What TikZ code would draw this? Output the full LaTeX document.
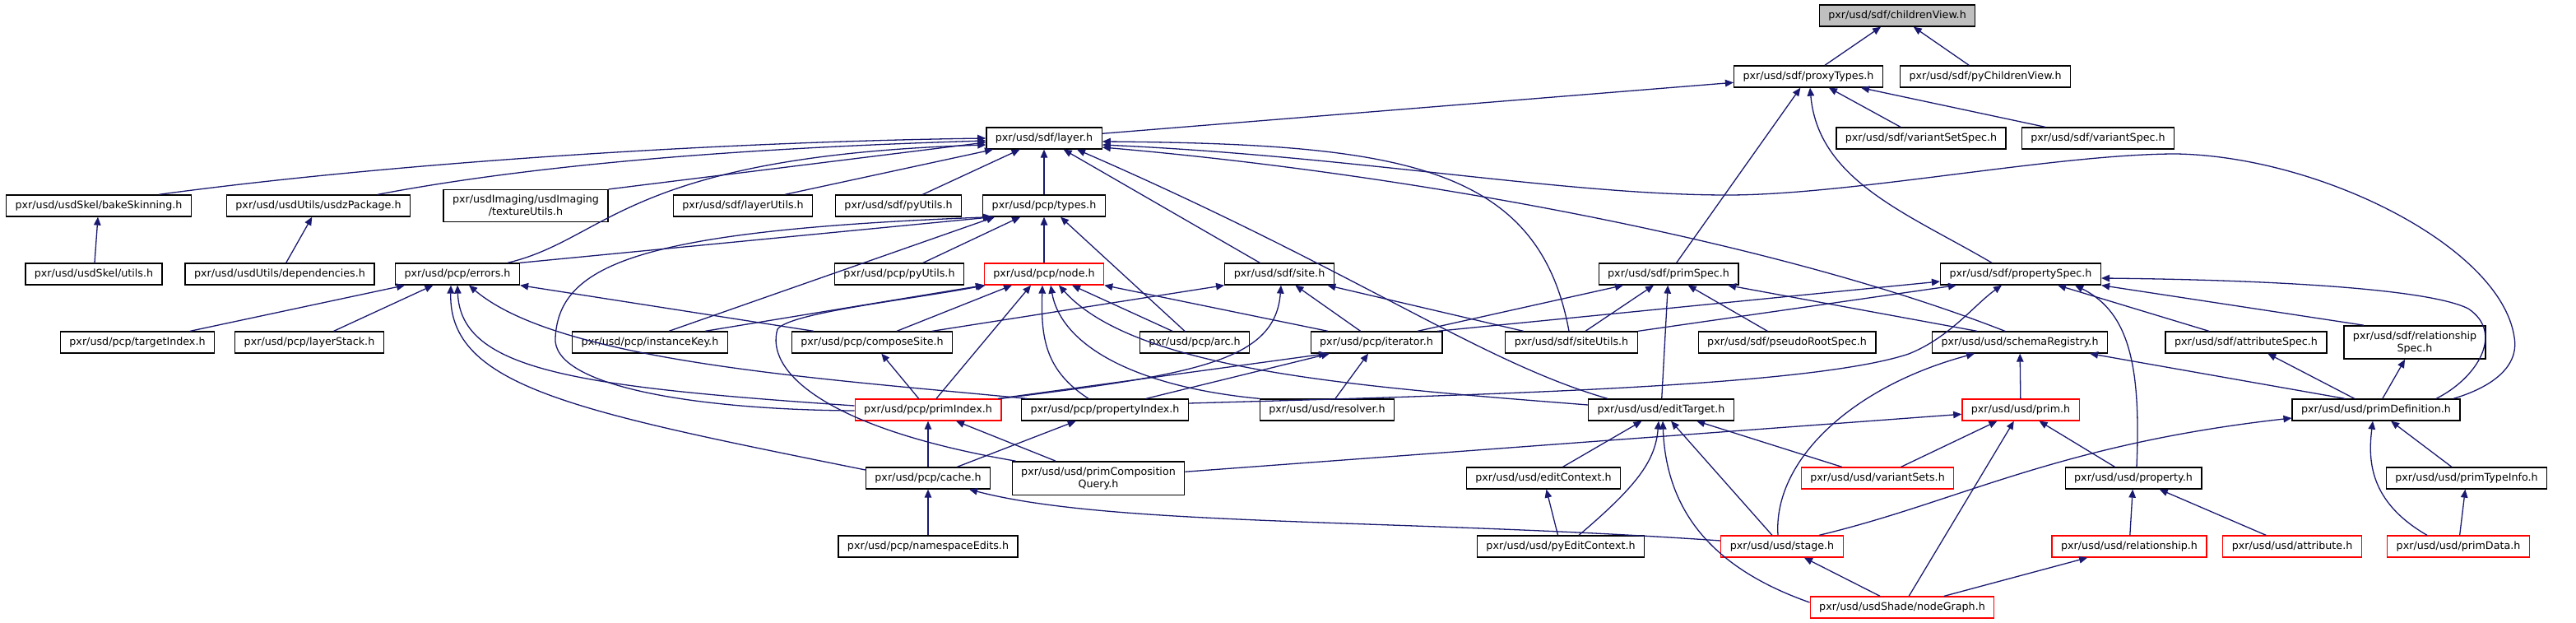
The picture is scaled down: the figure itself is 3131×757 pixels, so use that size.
\documentclass[tikz,border=0pt]{standalone}
\usepackage{fontspec}
\newfontfamily\dvsans{DejaVu Sans}
\usetikzlibrary{arrows.meta}
\definecolor{incblue}{HTML}{191970}
\definecolor{rootgray}{HTML}{BFBFBF}
\definecolor{trunc}{HTML}{FF0000}
\tikzset{
  hdr/.style={draw=black,line width=1.3pt,fill=white,font=\dvsans\fontsize{12.7}{15}\selectfont,minimum height=26pt,inner xsep=11pt,inner ysep=6.5pt,align=center},
  hdrred/.style={hdr,draw=trunc},
  hdrroot/.style={hdr,fill=rootgray},
  inc/.style={draw=incblue,line width=1.3pt,-{Triangle[length=10pt,width=8.5pt]}}
}

\begin{document}
\begin{tikzpicture}[x=1pt,y=-1pt]
  \useasboundingbox (0,0) rectangle (3131,757);
  % row 0-2
  \node[hdrroot] (cv) at (2306,19) {pxr/usd/sdf/childrenView.h};
  \node[hdr] (pt) at (2198,93) {pxr/usd/sdf/proxyTypes.h};
  \node[hdr] (pcv) at (2413,93) {pxr/usd/sdf/pyChildrenView.h};
  \node[hdr] (lay) at (1269,168) {pxr/usd/sdf/layer.h};
  \node[hdr] (vss) at (2335,168) {pxr/usd/sdf/variantSetSpec.h};
  \node[hdr] (vs) at (2550,168) {pxr/usd/sdf/variantSpec.h};
  % row 3
  \node[hdr] (bake) at (120,250) {pxr/usd/usdSkel/bakeSkinning.h};
  \node[hdr] (usdz) at (387,250) {pxr/usd/usdUtils/usdzPackage.h};
  \node[hdr] (tex) at (639,250) {pxr/usdImaging/usdImaging\\/textureUtils.h};
  \node[hdr] (lu) at (903,250) {pxr/usd/sdf/layerUtils.h};
  \node[hdr] (spy) at (1092,250) {pxr/usd/sdf/pyUtils.h};
  \node[hdr] (typ) at (1269,250) {pxr/usd/pcp/types.h};
  % row 4
  \node[hdr] (sku) at (114,333) {pxr/usd/usdSkel/utils.h};
  \node[hdr] (dep) at (340,333) {pxr/usd/usdUtils/dependencies.h};
  \node[hdr] (err) at (556,333) {pxr/usd/pcp/errors.h};
  \node[hdr] (ppy) at (1093,333) {pxr/usd/pcp/pyUtils.h};
  \node[hdrred] (nod) at (1269,333) {pxr/usd/pcp/node.h};
  \node[hdr] (site) at (1555,333) {pxr/usd/sdf/site.h};
  \node[hdr] (psp) at (2028,333) {pxr/usd/sdf/primSpec.h};
  \node[hdr] (prs) at (2456,333) {pxr/usd/sdf/propertySpec.h};
  % row 5
  \node[hdr] (tgt) at (167,416) {pxr/usd/pcp/targetIndex.h};
  \node[hdr] (lst) at (376,416) {pxr/usd/pcp/layerStack.h};
  \node[hdr] (ikey) at (790,416) {pxr/usd/pcp/instanceKey.h};
  \node[hdr] (csite) at (1060,416) {pxr/usd/pcp/composeSite.h};
  \node[hdr] (arc) at (1452,416) {pxr/usd/pcp/arc.h};
  \node[hdr] (iter) at (1673,416) {pxr/usd/pcp/iterator.h};
  \node[hdr] (sut) at (1910,416) {pxr/usd/sdf/siteUtils.h};
  \node[hdr] (prsp) at (2172,416) {pxr/usd/sdf/pseudoRootSpec.h};
  \node[hdr] (sreg) at (2455,416) {pxr/usd/usd/schemaRegistry.h};
  \node[hdr] (asp) at (2730,416) {pxr/usd/sdf/attributeSpec.h};
  \node[hdr] (rsp) at (2935,416) {pxr/usd/sdf/relationship\\Spec.h};
  % row 6
  \node[hdrred] (pidx) at (1128,498) {pxr/usd/pcp/primIndex.h};
  \node[hdr] (pridx) at (1343,498) {pxr/usd/pcp/propertyIndex.h};
  \node[hdr] (res) at (1613,498) {pxr/usd/usd/resolver.h};
  \node[hdr] (etgt) at (2019,498) {pxr/usd/usd/editTarget.h};
  \node[hdrred] (prim) at (2456,498) {pxr/usd/usd/prim.h};
  \node[hdr] (pdef) at (2888,498) {pxr/usd/usd/primDefinition.h};
  % row 7
  \node[hdr] (cache) at (1128,581) {pxr/usd/pcp/cache.h};
  \node[hdr] (pcq) at (1335,581) {pxr/usd/usd/primComposition\\Query.h};
  \node[hdr] (ectx) at (1876,581) {pxr/usd/usd/editContext.h};
  \node[hdrred] (vsets) at (2282,581) {pxr/usd/usd/variantSets.h};
  \node[hdr] (prop) at (2593,581) {pxr/usd/usd/property.h};
  \node[hdr] (pti) at (2998,581) {pxr/usd/usd/primTypeInfo.h};
  % row 8-9
  \node[hdr] (nse) at (1128,664) {pxr/usd/pcp/namespaceEdits.h};
  \node[hdr] (pyctx) at (1897,664) {pxr/usd/usd/pyEditContext.h};
  \node[hdrred] (stage) at (2166,664) {pxr/usd/usd/stage.h};
  \node[hdrred] (rel) at (2588,664) {pxr/usd/usd/relationship.h};
  \node[hdrred] (attr) at (2786,664) {pxr/usd/usd/attribute.h};
  \node[hdrred] (pdat) at (2988,664) {pxr/usd/usd/primData.h};
  \node[hdrred] (ngr) at (2312,738) {pxr/usd/usdShade/nodeGraph.h};

  % into childrenView / proxyTypes
  \draw[inc] (pt) -- (cv);
  \draw[inc] (pcv) -- (cv);
  \draw[inc] (lay) -- (pt);
  \draw[inc] (vss) -- (pt);
  \draw[inc] (vs) -- (pt);
  \draw[inc] (psp) -- (pt);
  \draw[inc] ([xshift=-35pt]prs.north) .. controls (2320,260) and (2210,220) .. ([xshift=2pt]pt.south);
  % into layer
  \draw[inc] ([xshift=73pt]bake.north) .. controls (500,195) and (900,172) .. (lay.west);
  \draw[inc] ([xshift=72pt]usdz.north) .. controls (650,200) and (900,180) .. ([yshift=-3pt]lay.west);
  \draw[inc] (tex.north east) -- ([yshift=-5pt]lay.west);
  \draw[inc] ([xshift=61pt]err.north) .. controls (740,290) and (760,190) .. ([yshift=-8pt]lay.west);
  \draw[inc] ([xshift=51pt]lu.north) -- ([xshift=-62pt]lay.south);
  \draw[inc] (spy) -- (lay);
  \draw[inc] (typ) -- (lay);
  \draw[inc] (site) -- (lay);
  \draw[inc] ([xshift=-65pt]etgt.north) .. controls (1800,440) and (1650,330) .. ([xshift=40pt]lay.south);
  \draw[inc] ([xshift=-3pt]sut.north) .. controls (1870,200) and (1700,175) .. ([yshift=-4pt]lay.east);
  \draw[inc] ([xshift=-18pt]sreg.north) .. controls (2150,290) and (1700,210) .. ([yshift=-11pt]lay.east);
  \draw[inc] ([xshift=94pt]pdef.north) .. controls (3030,470) and (3062,445) .. (3056,410)
    .. controls (3040,300) and (2820,190) .. (2645,187)
    .. controls (2500,187) and (2250,237) .. (2100,237)
    .. controls (1900,237) and (1650,190) .. ([yshift=-8pt]lay.east);
  % bake / usdz
  \draw[inc] (sku) -- (bake);
  \draw[inc] (dep) -- (usdz);
  % into types
  \draw[inc] (err.north east) -- ([xshift=-62pt]typ.south);
  \draw[inc] (ppy) -- (typ);
  \draw[inc] (nod) -- (typ);
  \draw[inc] ([xshift=-12pt]arc.north) -- ([xshift=20pt]typ.south);
  \draw[inc] ([xshift=23pt]ikey.north) -- ([xshift=-60pt]typ.south);
  \draw[inc] ([yshift=-1pt]pidx.west) .. controls (850,498) and (670,470) .. (675,410)
    .. controls (680,320) and (780,280) .. ([xshift=-64pt]typ.south);
  % into errors
  \draw[inc] (tgt) -- (err);
  \draw[inc] (lst) -- (err);
  \draw[inc] ([xshift=-71pt]csite.north) -- (err.south east);
  \draw[inc] ([yshift=5pt]pidx.west) .. controls (700,470) and (560,450) .. (err.south);
  \draw[inc] ([xshift=-95pt]pridx.north) .. controls (1000,460) and (680,440) .. ([xshift=14pt]err.south);
  \draw[inc] ([yshift=10pt]cache.west) .. controls (700,500) and (545,470) .. ([xshift=-8pt]err.south);
  % into node
  \draw[inc] ([xshift=67pt]ikey.north) -- (nod.south west);
  \draw[inc] ([xshift=30pt]csite.north) -- ([xshift=-39pt]nod.south);
  \draw[inc] ([xshift=-27pt]arc.north) -- ([xshift=34pt]nod.south);
  \draw[inc] ([xshift=-59pt]iter.north) -- (nod.south east);
  \draw[inc] ([xshift=10pt]pidx.north) -- ([xshift=-16pt]nod.south);
  \draw[inc] ([xshift=-20pt]pridx.north) .. controls (1270,450) and (1265,410) .. ([xshift=-2pt]nod.south);
  \draw[inc] (res.north west) .. controls (1380,470) and (1290,420) .. ([xshift=8pt]nod.south);
  \draw[inc] ([yshift=6pt]etgt.west) .. controls (1650,470) and (1380,450) .. ([xshift=18pt]nod.south);
  \draw[inc] ([xshift=5pt]pcq.north west) .. controls (1000,520) and (930,450) .. (945,400)
    .. controls (960,380) and (1100,365) .. ([xshift=2pt]nod.south west);
  % into site
  \draw[inc] ([xshift=73pt]csite.north) -- (site.south west);
  \draw[inc] (iter) -- (site);
  \draw[inc] (sut) -- (site);
  \draw[inc] ([xshift=88pt]pidx.north) .. controls (1450,455) and (1550,440) .. ([xshift=2pt]site.south);
  % into primSpec
  \draw[inc] ([xshift=50pt]iter.north) -- ([xshift=-55pt]psp.south);
  \draw[inc] ([xshift=17pt]sut.north) -- ([xshift=-18pt]psp.south);
  \draw[inc] (etgt) -- (psp);
  \draw[inc] (prsp) -- (psp);
  \draw[inc] ([xshift=-52pt]sreg.north) -- ([xshift=72pt]psp.south);
  % into propertySpec
  \draw[inc] ([xshift=74pt]iter.north) -- ([yshift=-9pt]prs.west);
  \draw[inc] (sut.north east) -- ([xshift=-78pt]prs.south);
  \draw[inc] ([yshift=8pt]pridx.east) .. controls (1800,480) and (2200,470) .. (2320,430)
    .. controls (2370,410) and (2400,370) .. ([xshift=-23pt]prs.south);
  \draw[inc] (asp) -- (prs);
  \draw[inc] ([xshift=-62pt]rsp.north) -- (prs.south east);
  \draw[inc] ([xshift=4pt]prop.north) .. controls (2602,450) and (2590,380) .. ([xshift=66pt]prs.south);
  \draw[inc] ([xshift=73pt]pdef.north) .. controls (3010,460) and (3045,405) .. (3000,375)
    .. controls (2950,350) and (2750,340) .. ([yshift=-5pt]prs.east);
  % into iterator / composeSite
  \draw[inc] ([xshift=85pt]pidx.north) -- ([xshift=-60pt]iter.south);
  \draw[inc] ([xshift=50pt]pridx.north) -- ([xshift=-57pt]iter.south);
  \draw[inc] (res) -- (iter);
  \draw[inc] (pidx) -- (csite);
  % into schemaRegistry
  \draw[inc] ([xshift=-5pt]stage.north) .. controls (2155,560) and (2250,470) .. ([xshift=-55pt]sreg.south);
  \draw[inc] (prim) -- (sreg);
  \draw[inc] ([xshift=-38pt]pdef.north) -- ([xshift=85pt]sreg.south);
  \draw[inc] (pdef) -- (asp);
  \draw[inc] (pdef) -- (rsp);
  % into primIndex / propertyIndex / cache
  \draw[inc] (cache) -- (pidx);
  \draw[inc] (pcq) -- (pidx);
  \draw[inc] (cache) -- (pridx);
  \draw[inc] (nse) -- (cache);
  \draw[inc] ([yshift=7pt]stage.west) .. controls (1700,630) and (1350,640) .. ([xshift=50pt]cache.south);
  % into editTarget / editContext
  \draw[inc] (ectx) -- (etgt);
  \draw[inc] (pyctx) -- (ectx);
  \draw[inc] ([xshift=22pt]pyctx.north) .. controls (1990,590) and (2012,560) .. ([xshift=-3pt]etgt.south);
  \draw[inc] (stage) -- (etgt);
  \draw[inc] (vsets) -- (etgt);
  \draw[inc] ([yshift=6pt]ngr.west) .. controls (2080,690) and (2025,620) .. ([xshift=2pt]etgt.south);
  % into prim / primDefinition
  \draw[inc] (pcq) -- (prim);
  \draw[inc] (vsets) -- (prim);
  \draw[inc] (prop) -- (prim);
  \draw[inc] (ngr) -- (prim);
  \draw[inc] ([xshift=45pt]stage.north) .. controls (2380,610) and (2500,540) .. ([yshift=-10pt]pdef.west);
  \draw[inc] (pti) -- (pdef);
  \draw[inc] ([xshift=-38pt]pdat.north) .. controls (2880,610) and (2878,560) .. ([xshift=-4pt]pdef.south);
  \draw[inc] (pdat) -- (pti);
  % lowest rows
  \draw[inc] (rel) -- (prop);
  \draw[inc] (attr) -- (prop);
  \draw[inc] (ngr) -- (stage);
  \draw[inc] (ngr) -- (rel);
\end{tikzpicture}
\end{document}
